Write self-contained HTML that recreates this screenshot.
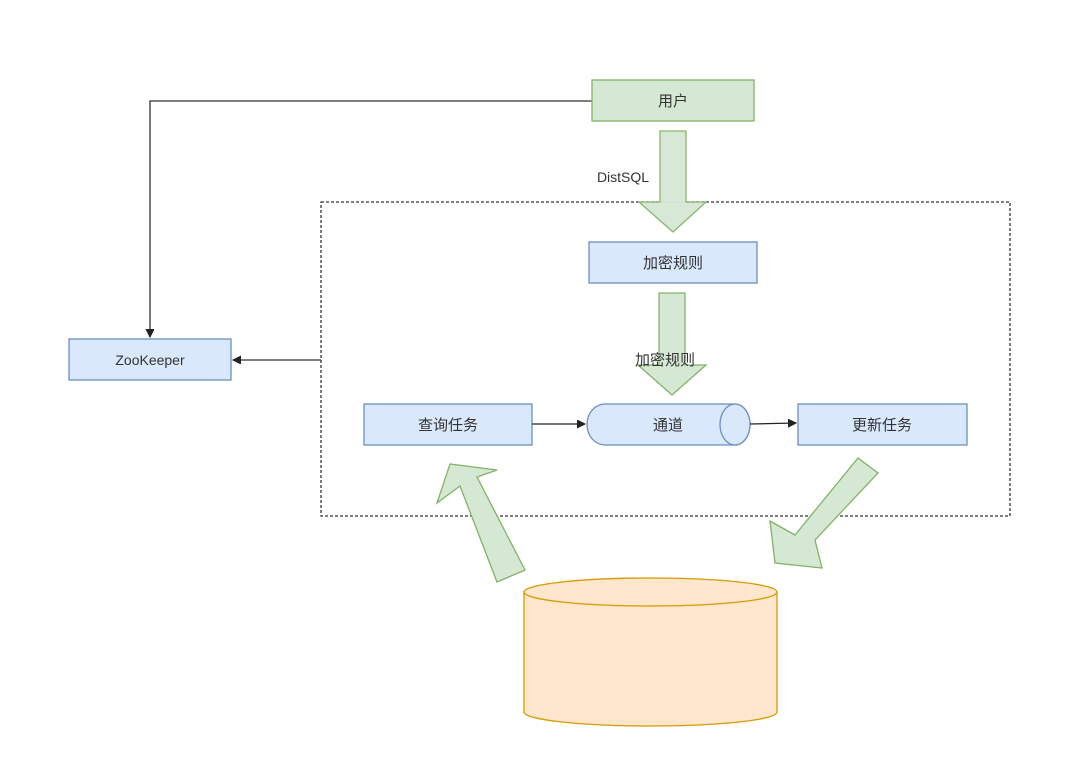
<!DOCTYPE html>
<html><head><meta charset="utf-8"><style>
html,body{margin:0;padding:0;background:#fff;}
svg{display:block;}
text{font-family:"Liberation Sans","Noto Sans CJK SC",sans-serif;font-size:15px;fill:#333;}
</style></head><body>
<svg width="1080" height="772" viewBox="0 0 1080 772" xmlns="http://www.w3.org/2000/svg">
<defs>
<marker id="ah" markerWidth="10" markerHeight="10" refX="8" refY="4" orient="auto" markerUnits="userSpaceOnUse">
<path d="M0,0 L8,4 L0,8 Z" fill="#222" stroke="#222" stroke-width="1"/>
</marker>
</defs>
<rect x="321" y="202" width="689" height="314" fill="none" stroke="#333" stroke-width="1.3" stroke-dasharray="3,2"/>
<polyline points="592,101 150,101 150,337" fill="none" stroke="#333" stroke-width="1.3" marker-end="url(#ah)"/>
<line x1="321" y1="360" x2="233" y2="360" stroke="#333" stroke-width="1.3" marker-end="url(#ah)"/>
<rect x="592" y="80" width="162" height="41" fill="#d5e8d4" stroke="#82b366" stroke-width="1.3"/>
<text x="673" y="106" text-anchor="middle">用户</text>
<polygon points="660,131 686,131 686,202 706,202 673,232 639,202 660,202" fill="#d5e8d4" stroke="#82b366" stroke-width="1.3" opacity="0.95"/>
<text x="623" y="182" text-anchor="middle" style="font-size:14px">DistSQL</text>
<rect x="589" y="242" width="168" height="41" fill="#dae8fc" stroke="#6c8ebf" stroke-width="1.3"/>
<text x="673" y="268" text-anchor="middle">加密规则</text>
<polygon points="659,293 685,293 685,365 706,365 672,395 638,365 659,365" fill="#d5e8d4" stroke="#82b366" stroke-width="1.3"/>
<text x="665" y="365" text-anchor="middle">加密规则</text>
<rect x="69" y="339" width="162" height="41" fill="#dae8fc" stroke="#6c8ebf" stroke-width="1.3"/>
<text x="150" y="365" text-anchor="middle" style="font-size:14px">ZooKeeper</text>
<rect x="364" y="404" width="168" height="41" fill="#dae8fc" stroke="#6c8ebf" stroke-width="1.3"/>
<text x="448" y="430" text-anchor="middle">查询任务</text>
<path d="M605,404 L735,404 A15,20.5 0 0 1 735,445 L605,445 A18,20.5 0 0 1 605,404 Z" fill="#dae8fc" stroke="#6c8ebf" stroke-width="1.3"/>
<ellipse cx="735" cy="424.5" rx="15" ry="20.5" fill="#dae8fc" stroke="#6c8ebf" stroke-width="1.3"/>
<text x="668" y="430" text-anchor="middle">通道</text>
<rect x="798" y="404" width="169" height="41" fill="#dae8fc" stroke="#6c8ebf" stroke-width="1.3"/>
<text x="882" y="430" text-anchor="middle">更新任务</text>
<line x1="532" y1="424" x2="585" y2="424" stroke="#222" stroke-width="1.3" marker-end="url(#ah)"/>
<line x1="750" y1="424" x2="796" y2="423" stroke="#222" stroke-width="1.3" marker-end="url(#ah)"/>
<polygon points="525,570 497,582 460,486 437,503 450,464 497,470 477,477" fill="#d5e8d4" stroke="#82b366" stroke-width="1.3"/>
<polygon points="858,458 878,473 815,540 822,568 775,563 770,521 795,535" fill="#d5e8d4" stroke="#82b366" stroke-width="1.3"/>
<path d="M524,592 L524,712 A126.5,14 0 0 0 777,712 L777,592" fill="#ffe6cc" stroke="#d79b00" stroke-width="1.3"/>
<ellipse cx="650.5" cy="592" rx="126.5" ry="14" fill="#ffe6cc" stroke="#d79b00" stroke-width="1.3"/>
</svg>
</body></html>
